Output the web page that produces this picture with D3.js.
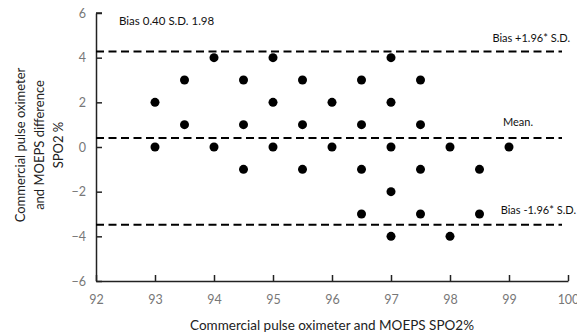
<!DOCTYPE html>
<html>
<head>
<meta charset="utf-8">
<script src="https://cdn.jsdelivr.net/npm/d3@7"></script>
<style>
  body { margin: 0; background: #fff; }
  svg { display: block; font-family: Lato, "Open Sans", sans-serif; }
</style>
</head>
<body>
<div id="chart"></div>
<script>
(function(d3) {
  'use strict';

  // mean of the two devices (x) and their difference (y)
  var meanValues = [93, 93, 93.5, 93.5, 94, 94, 94.5, 94.5, 94.5, 95, 95, 95,
                    95.5, 95.5, 95.5, 96, 96, 96.5, 96.5, 96.5, 96.5,
                    97, 97, 97, 97, 97, 97.5, 97.5, 97.5, 97.5, 98, 98, 98.5, 98.5, 99];
  var diffValues = [2, 0, 3, 1, 4, 0, 3, 1, -1, 4, 2, 0,
                    3, 1, -1, 2, 0, 3, 1, -1, -3,
                    4, 2, 0, -2, -4, 3, 1, -1, -3, 0, -4, -1, -3, 0];
  var bias = 0.40;
  var sd = 1.98;
  var xTicks = [92, 93, 94, 95, 96, 97, 98, 99, 100];
  var yTicks = [-6, -4, -2, 0, 2, 4, 6];

  var width = 577, height = 335;
  var margin = {left: 96, right: 9, top: 13, bottom: 54};

  var svg = d3.select('#chart').append('svg')
    .attr('width', width)
    .attr('height', height);

  var x = d3.scaleLinear().domain([92, 100]).range([margin.left, width - margin.right]);
  var y = d3.scaleLinear().domain([-6, 6]).range([height - margin.bottom, margin.top]);

  var xAxis = svg.append('g')
    .attr('transform', 'translate(0,' + y(-6) + ')')
    .call(d3.axisBottom(x).tickValues(xTicks).tickSizeInner(-6).tickSizeOuter(0).tickPadding(14));
  var yAxis = svg.append('g')
    .attr('transform', 'translate(' + x(92) + ',0)')
    .call(d3.axisLeft(y).tickValues(yTicks).tickSizeInner(-6).tickSizeOuter(0).tickPadding(10));

  [xAxis, yAxis].forEach(function(a) {
    a.select('.domain').attr('stroke', '#222').attr('stroke-width', 1.5);
    a.selectAll('.tick line').attr('stroke', '#222').attr('stroke-width', 1.5);
    a.selectAll('.tick text').attr('fill', '#777').style('font-size', '12.5px')
      .style('font-family', 'Lato, "Open Sans", sans-serif');
  });
  // the top y tick sits on the end of the axis
  yAxis.append('line').attr('x1', 0).attr('x2', 6).attr('y1', y(6)).attr('y2', y(6))
    .attr('stroke', '#222').attr('stroke-width', 1.5);

  // bias and limits of agreement
  var lines = [
    {v: bias + 1.96 * sd, label: 'Bias +1.96* S.D.', lx: 570, dy: -9},
    {v: bias, label: 'Mean.', lx: 533, dy: -12},
    {v: bias - 1.96 * sd, label: 'Bias -1.96* S.D.', lx: 576, dy: -11}
  ];
  svg.selectAll('.ref').data(lines).enter().append('line')
    .attr('class', 'ref')
    .attr('x1', x(92)).attr('x2', 562)
    .attr('y1', function(d) { return y(d.v); })
    .attr('y2', function(d) { return y(d.v); })
    .attr('stroke', '#000').attr('stroke-width', 2)
    .attr('stroke-dasharray', '8,4.5');
  svg.selectAll('.reflabel').data(lines).enter().append('text')
    .attr('class', 'reflabel')
    .attr('x', function(d) { return d.lx; })
    .attr('y', function(d) { return y(d.v) + d.dy; })
    .attr('text-anchor', 'end')
    .style('font-size', '11px').attr('fill', '#111')
    .text(function(d) { return d.label; });

  svg.append('text')
    .attr('x', 119).attr('y', 25)
    .style('font-size', '11.5px').attr('fill', '#111')
    .text('Bias ' + bias.toFixed(2) + ' S.D. ' + sd.toFixed(2));

  svg.selectAll('.dot').data(meanValues).enter().append('circle')
    .attr('class', 'dot')
    .attr('cx', function(d) { return x(d); })
    .attr('cy', function(d, i) { return y(diffValues[i]); })
    .attr('r', 4.5)
    .attr('fill', '#000');

  svg.append('text')
    .attr('x', 332).attr('y', 330)
    .attr('text-anchor', 'middle')
    .style('font-size', '13.5px').attr('fill', '#222')
    .text('Commercial pulse oximeter and MOEPS SPO2%');

  var yTitle = ['Commercial pulse oximeter', 'and MOEPS difference', 'SPO2 %'];
  svg.append('text')
    .attr('transform', 'translate(25,145) rotate(-90)')
    .attr('text-anchor', 'middle')
    .style('font-size', '13px').attr('fill', '#222')
    .selectAll('tspan').data(yTitle).enter().append('tspan')
    .attr('x', 0)
    .attr('dy', function(d, i) { return i === 0 ? 0 : 19; })
    .text(function(d) { return d; });

})(window.d3);
</script>
</body>
</html>
